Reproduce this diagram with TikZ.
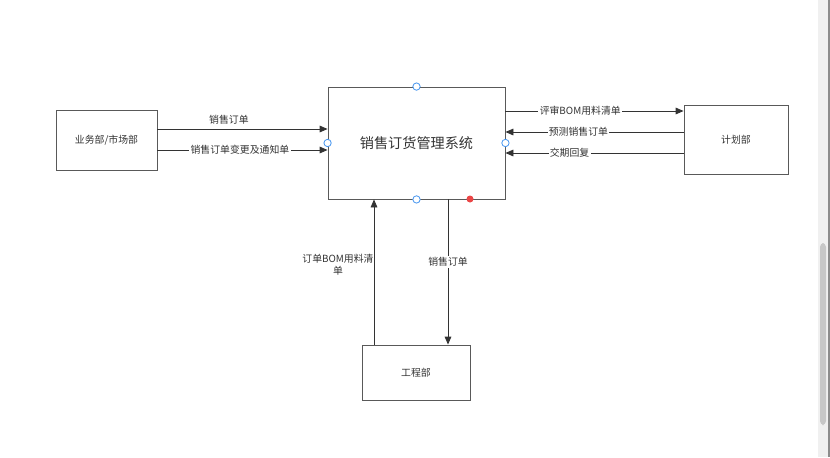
\documentclass[tikz,border=0pt]{standalone}
\usepackage{fontspec}
\setmainfont{Noto Sans CJK SC}
\usetikzlibrary{arrows.meta}

\begin{document}
\begin{tikzpicture}[x=0.75pt,y=-0.75pt,
  box/.style={draw=black!65,line width=0.65pt,inner sep=0pt,font=\fontsize{7.4}{9}\selectfont,text=black!80},
  flow/.style={draw=black!80,line width=0.65pt,-{Triangle[length=6pt,width=5pt]}},
  lbl/.style={font=\fontsize{7.4}{9}\selectfont,text=black!80,inner sep=1pt},
  onl/.style={lbl,fill=white},
  port/.style={circle,draw=cport,fill=white,line width=0.6pt,inner sep=0pt,minimum size=5.5pt}]
\definecolor{cport}{RGB}{70,150,240}
\definecolor{cred}{RGB}{235,70,70}
\useasboundingbox[fill=white] (0,0) rectangle (830,457);
% boxes
\node[box,minimum width=75.75pt,minimum height=45pt] (biz) at (106.5,140) {业务部/市场部};
\node[box,minimum width=132.75pt,minimum height=84pt,font=\fontsize{10.6}{12}\selectfont] (sys) at (416.5,143) {销售订货管理系统};
\node[box,minimum width=78pt,minimum height=51.75pt] (plan) at (736,139.5) {计划部};
\node[box,minimum width=81pt,minimum height=41.25pt] (eng) at (416,372.5) {工程部};
% left side
\draw[flow] (biz.east |- 0,129) -- (sys.west |- 0,129) node[lbl,above,pos=0.42,yshift=2pt] (l1) {销售订单};
\draw[flow] (biz.east |- 0,150) -- (sys.west |- 0,150) node[onl,pos=0.485] (l2) {销售订单变更及通知单};
% right side
\draw[flow] (sys.east |- 0,111) -- (plan.west |- 0,111) node[onl,pos=0.42] (l3) {评审BOM用料清单};
\draw[flow] (plan.west |- 0,132) -- (sys.east |- 0,132) node[onl,pos=0.59] (l4) {预测销售订单};
\draw[flow] (plan.west |- 0,153) -- (sys.east |- 0,153) node[onl,pos=0.64] (l5) {交期回复};
% bottom
\draw[flow] (eng.north -| 374,0) -- (sys.south -| 374,0);
\node[lbl,align=center] (l6) at (338,265) {订单BOM用料清\\单};
\draw[flow] (sys.south -| 448,0) -- (eng.north -| 448,0) node[onl,pos=0.43] (l7) {销售订单};
% connection points
\node[port] (pn) at (sys.north) {};
\node[port] (pw) at (sys.west) {};
\node[port] (pe) at (sys.east) {};
\node[port] (ps) at (sys.south) {};
\fill[cred] (470,199) circle (3.5);
% scroll bar
\fill[black!6] (818,0) rectangle (828,457);
\fill[black!22,rounded corners=3] (820,243) rectangle (826,425);
\draw[black!45,line width=0.8pt] (829,0) -- (829,457);
\end{tikzpicture}
\end{document}
